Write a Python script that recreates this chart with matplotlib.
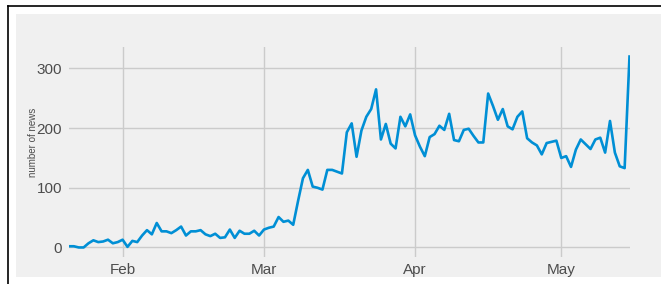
import numpy as np
import pandas as pd
import matplotlib
matplotlib.use('Agg')
from matplotlib import pyplot as plt
import matplotlib.dates as mdates
from matplotlib.patches import Rectangle
from matplotlib.lines import Line2D

#Daily counts
start_date = '2020-01-21'
news_counts = [2, 2, 0, 0, 7, 12, 9, 10, 13, 7, 9, 13, 1, 11, 9, 20, 29, 22, 41, 27,
               27, 24, 29, 35, 20, 27, 27, 29, 22, 19, 23, 16, 17, 30, 16, 28, 23, 23, 28, 20,
               30, 33, 35, 51, 43, 45, 38, 78, 116, 130, 102, 100, 97, 130, 130, 127, 124, 193, 208, 152,
               196, 219, 232, 265, 181, 207, 174, 166, 219, 203, 223, 188, 169, 153, 185, 190, 204, 197, 224, 180,
               178, 197, 199, 187, 176, 176, 258, 237, 214, 232, 203, 198, 219, 228, 183, 176, 171, 156, 175, 177,
               179, 150, 153, 135, 164, 181, 173, 165, 181, 184, 159, 212, 159, 136, 133, 320]
y_ticks = [0, 100, 200, 300]
y_label = 'number of news'

dates = pd.date_range(start_date, periods=len(news_counts), freq='D')
df = pd.DataFrame({'count': news_counts}, index=dates)

plt.rcParams['font.family'] = ['Liberation Sans Narrow', 'Liberation Sans', 'DejaVu Sans']

fig = plt.figure(figsize=(6.61, 2.84), dpi=100)
fig.patch.set_facecolor('white')

#gray panel and black frame like the original screenshot
fig.patches.append(Rectangle((16 / 661, 7 / 284), 645 / 661, 263 / 284,
                             transform=fig.transFigure, facecolor='#f0f0f0',
                             edgecolor='none', zorder=-5))
fig.lines.append(Line2D([7.5 / 661, 7.5 / 661], [0, 278.5 / 284], transform=fig.transFigure,
                        color='black', lw=1.2, zorder=-4))
fig.lines.append(Line2D([7.5 / 661, 1], [278.5 / 284, 278.5 / 284], transform=fig.transFigure,
                        color='black', lw=1.2, zorder=-4))

ax = fig.add_axes([69 / 661, 27 / 284, 560.5 / 661, 210 / 284])
ax.set_facecolor('#f0f0f0')
ax.plot(df.index, df['count'], color='#008fd5', lw=1.9)

ax.set_xlim(df.index[0], df.index[-1])
ax.margins(y=0.05)
ax.set_yticks(y_ticks)
ax.xaxis.set_major_locator(mdates.MonthLocator())
ax.xaxis.set_major_formatter(mdates.DateFormatter('%b'))

ax.grid(True, color='#cbcbcb', lw=1.0)
ax.set_axisbelow(True)
for s in ax.spines.values():
    s.set_visible(False)
ax.tick_params(length=0, labelsize=11, colors='#4d4d4d')
ax.tick_params(axis='y', pad=5)
ax.tick_params(axis='x', pad=4)

fig.text(33.5 / 661, 0.5, y_label, rotation=90, ha='center', va='center',
         fontsize=7, color='#4d4d4d')

plt.savefig('out.png', dpi=100, facecolor=fig.get_facecolor())
